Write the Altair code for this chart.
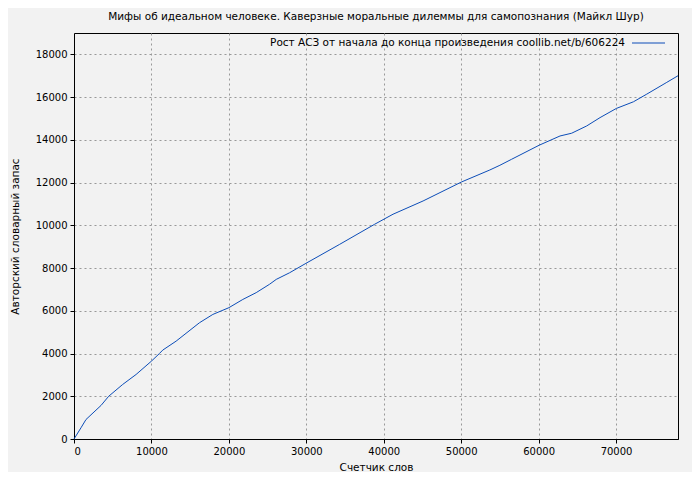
import altair as alt
import pandas as pd

word_counts = [0, 900, 1550, 3490, 4480, 6290, 8020, 10000, 11030, 11460, 13190,
               16200, 17930, 20000, 21800, 23530, 25250, 26120, 27840, 29950, 34310,
               38830, 41200, 45080, 50050, 53700, 55000, 56510, 60080, 62760, 64270,
               66210, 67930, 70040, 72240, 73970, 76550, 78000]
vocab = [0, 524, 913, 1570, 2000, 2553, 3020, 3644, 4000, 4160, 4580,
         5440, 5830, 6145, 6530, 6850, 7240, 7470, 7780, 8220, 9110,
         10050, 10520, 11140, 12030, 12590, 12810, 13090, 13750, 14180, 14310,
         14650, 15040, 15470, 15780, 16140, 16690, 17000]

title_text = "Мифы об идеальном человеке. Каверзные моральные дилеммы для самопознания (Майкл Шур)"
legend_label = "Рост АСЗ от начала до конца произведения coollib.net/b/606224"
x_title = "Счетчик слов"
y_title = "Авторский словарный запас"
x_ticks = [0, 10000, 20000, 30000, 40000, 50000, 60000, 70000]
y_ticks = [0, 2000, 4000, 6000, 8000, 10000, 12000, 14000, 16000, 18000]

df = pd.DataFrame({"x": word_counts, "y": vocab})
FONT = "DejaVu Sans"
LINE_COLOR = "#0c4db8"

line = alt.Chart(df).mark_line(color=LINE_COLOR, strokeWidth=1).encode(
    x=alt.X("x:Q", title=x_title,
            scale=alt.Scale(domain=[0, 78000], nice=False, zero=False),
            axis=alt.Axis(values=x_ticks, format="d", titlePadding=6, labelPadding=3)),
    y=alt.Y("y:Q", title=y_title,
            scale=alt.Scale(domain=[0, 19000], nice=False),
            axis=alt.Axis(values=y_ticks, format="d", titlePadding=15, labelPadding=3)),
)

legend_text = alt.Chart(pd.DataFrame({"t": [legend_label]})).mark_text(
    align="right", baseline="middle", font=FONT, fontSize=10.5, color="black"
).encode(x=alt.value(551), y=alt.value(10), text="t:N")

legend_rule = alt.Chart(pd.DataFrame({"a": [0]})).mark_rule(
    color=LINE_COLOR, strokeWidth=1
).encode(x=alt.value(558), x2=alt.value(591), y=alt.value(10))

chart = alt.layer(line, legend_text, legend_rule).properties(
    width=604, height=406,
    title=alt.TitleParams(title_text, font=FONT, fontSize=10.5, fontWeight="normal",
                          anchor="middle", offset=11, color="black"),
    padding={"left": 66, "top": 25, "right": 14, "bottom": 33},
    autosize="none",
    background="#f2f2f2",
).configure_view(
    stroke="black", strokeWidth=1, fill="#f2f2f2"
).configure_axis(
    labelFont=FONT, titleFont=FONT, labelFontSize=10, titleFontSize=10.5,
    titleFontWeight="normal", labelColor="black", titleColor="black",
    domainColor="black", tickColor="black", tickSize=4,
    gridColor="#999999", gridDash=[2, 3], gridWidth=1, gridOpacity=1,
)

chart.save("out.html", embed_options={"renderer": "svg", "actions": False})
